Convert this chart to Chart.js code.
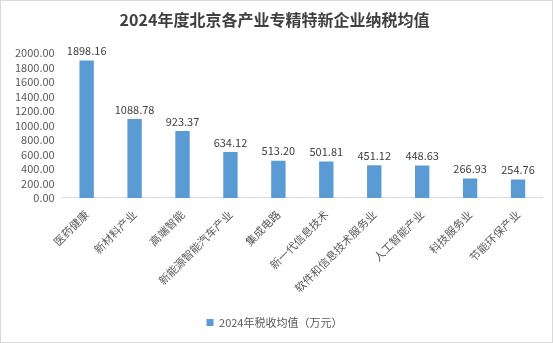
<!DOCTYPE html>
<html>
<head>
<meta charset="utf-8">
<script src="https://cdn.jsdelivr.net/npm/chart.js@4/dist/chart.umd.min.js"></script>
<style>
  body { margin: 0; background: #fff; }
  .chart-container { width: 553px; height: 343px; box-sizing: border-box; border: 1px solid #d9d9d9; position: relative; }
</style>
</head>
<body>
<div class="chart-container"><canvas id="chart"></canvas></div>
<script>
// 2024 average tax per industry (10k yuan)
const categories = ['医药健康', '新材料产业', '高端智能', '新能源智能汽车产业', '集成电路',
  '新一代信息技术', '软件和信息技术服务业', '人工智能产业', '科技服务业', '节能环保产业'];
const taxAvg = [1898.16, 1088.78, 923.37, 634.12, 513.20, 501.81, 451.12, 448.63, 266.93, 254.76];
const yTicks = [0, 200, 400, 600, 800, 1000, 1200, 1400, 1600, 1800, 2000];

const fontFamily = '"Noto Sans CJK SC", "Noto Sans", sans-serif';

// draw the value above each bar
const valueLabels = {
  id: 'valueLabels',
  afterDatasetsDraw(chart) {
    const ctx = chart.ctx;
    const meta = chart.getDatasetMeta(0);
    ctx.save();
    ctx.font = '11px ' + fontFamily;
    ctx.fillStyle = '#404040';
    ctx.textAlign = 'center';
    ctx.textBaseline = 'bottom';
    meta.data.forEach((bar, i) => {
      ctx.fillText(taxAvg[i].toFixed(2), bar.x, bar.y - 4);
    });
    ctx.restore();
  }
};

new Chart(document.getElementById('chart').getContext('2d'), {
  type: 'bar',
  data: {
    labels: categories,
    datasets: [{
      label: '2024年税收均值（万元）',
      data: taxAvg,
      backgroundColor: '#5b9bd5',
      categoryPercentage: 1,
      barPercentage: 0.3
    }]
  },
  options: {
    responsive: true,
    maintainAspectRatio: false,
    animation: false,
    layout: { padding: { left: 6, right: 10, top: 0, bottom: 4 } },
    scales: {
      x: {
        grid: { display: false, drawTicks: false },
        border: { color: '#d9d9d9' },
        ticks: {
          minRotation: 45,
          maxRotation: 45,
          padding: 10,
          color: '#595959',
          font: { size: 11, family: fontFamily }
        }
      },
      y: {
        min: 0,
        max: 2000,
        afterBuildTicks: axis => { axis.ticks = yTicks.map(v => ({ value: v })); },
        grid: { display: false, drawTicks: false },
        border: { display: false },
        ticks: {
          autoSkip: false,
          padding: 8,
          color: '#595959',
          font: { size: 11, family: fontFamily },
          callback: v => Number(v).toFixed(2)
        }
      }
    },
    plugins: {
      title: {
        display: true,
        text: '2024年度北京各产业专精特新企业纳税均值',
        color: '#404040',
        font: { size: 16, weight: 'bold', family: fontFamily },
        padding: { top: 9, bottom: 24 }
      },
      legend: {
        position: 'bottom',
        labels: {
          boxWidth: 7,
          boxHeight: 7,
          color: '#595959',
          font: { size: 11, family: fontFamily },
          padding: 12
        }
      },
      tooltip: { enabled: false }
    }
  },
  plugins: [valueLabels]
});
</script>
</body>
</html>
